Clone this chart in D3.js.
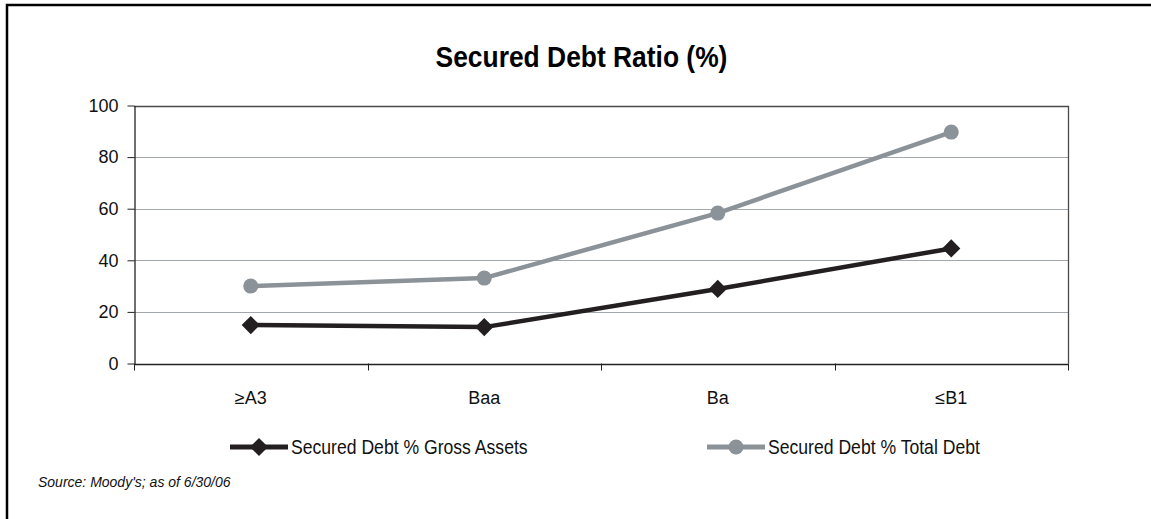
<!DOCTYPE html>
<html><head><meta charset="utf-8">
<script src="https://cdn.jsdelivr.net/npm/d3@7/dist/d3.min.js"></script>
<style>
html,body{margin:0;padding:0;background:#fff;}
svg{display:block;}
text{font-family:"Liberation Sans",Arial,sans-serif;}
</style></head><body>
<svg id="chart" width="1151" height="519"></svg>
<script>
const categories = ["\u2265A3", "Baa", "Ba", "\u2264B1"];
const grossAssets = [14.9, 14.1, 28.9, 44.6];
const totalDebt = [30.0, 33.1, 58.3, 89.7];
const yTicks = [0, 20, 40, 60, 80, 100];
const seriesNames = ["Secured Debt % Gross Assets", "Secured Debt % Total Debt"];
const title = "Secured Debt Ratio (%)";
const source = "Source: Moody's; as of 6/30/06";

const W = 1151, H = 519;
const svg = d3.select("#chart");
const m = {left: 134, right: 1068, top: 105.5, bottom: 363.5};

// outer frame
svg.append("path").attr("d", `M7,${H+10} L7,5 L${W+10},5`)
  .attr("fill","none").attr("stroke","#000").attr("stroke-width",2.5);

// condensed text helper
function ctext(x0, y0, sx, str, size, opts={}) {
  const g = svg.append("g").attr("transform", `translate(${x0},${y0}) scale(${sx},1)`);
  const t = g.append("text").attr("x",0).attr("y",0).attr("font-size",size)
    .attr("fill", opts.fill || "#111").text(str);
  if (opts.anchor) t.attr("text-anchor", opts.anchor);
  if (opts.bold) t.attr("font-weight","bold");
  return t;
}

ctext(581.5, 67, 0.88, title, 30, {anchor:"middle", bold:true, fill:"#000"});

const x = d3.scaleBand().domain(categories).range([m.left, m.right]);
const y = d3.scaleLinear().domain([0,100]).range([m.bottom, m.top]);

// gridlines
svg.append("g").selectAll("line").data(yTicks.filter(d=>d>0 && d<100)).join("line")
  .attr("x1", m.left).attr("x2", m.right)
  .attr("y1", d=>Math.round(y(d))+0.5).attr("y2", d=>Math.round(y(d))+0.5)
  .attr("stroke", "#a3a8ad").attr("stroke-width",1);

// plot border top/right
svg.append("path").attr("d", `M${m.left},${Math.round(y(100))+0.5} H${m.right+0.5} V${m.bottom}`)
  .attr("fill","none").attr("stroke","#4a4a4a").attr("stroke-width",1.3);

// y axis
const yAxis = svg.append("g").attr("transform",`translate(${m.left+0.5},0)`)
  .call(d3.axisLeft(y).tickValues(yTicks).tickSize(7).tickPadding(9).tickSizeOuter(0));
yAxis.select(".domain").attr("stroke","#222").attr("stroke-width",1.3);
yAxis.selectAll(".tick line").attr("stroke","#222");
yAxis.selectAll("text").attr("font-size",18).attr("fill","#111")
  .attr("font-family","'Liberation Sans',Arial,sans-serif");

// x axis
const xAxis = svg.append("g").attr("transform",`translate(0,${m.bottom+0.5})`)
  .call(d3.axisBottom(x).tickSize(0).tickPadding(27));
xAxis.select(".domain").attr("stroke","#222").attr("stroke-width",1.5);
xAxis.selectAll("text").attr("font-size",18).attr("fill","#111")
  .attr("font-family","'Liberation Sans',Arial,sans-serif");
// category boundary ticks
const bounds = categories.map(c=>x(c)).concat([m.right]);
svg.append("g").selectAll("line").data(bounds).join("line")
  .attr("x1",d=>Math.round(d)+0.5).attr("x2",d=>Math.round(d)+0.5)
  .attr("y1", m.bottom).attr("y2", m.bottom+7).attr("stroke","#222").attr("stroke-width",1);

const cx = c => x(c) + x.bandwidth()/2;
const line = d3.line().x((d,i)=>cx(categories[i])).y(d=>y(d));

const grayC = "#8b9298", blackC = "#231f20";
svg.append("path").datum(totalDebt).attr("d", line).attr("fill","none")
  .attr("stroke", grayC).attr("stroke-width",4.5);
svg.append("g").selectAll("circle").data(totalDebt).join("circle")
  .attr("cx",(d,i)=>cx(categories[i])).attr("cy",d=>y(d)).attr("r",7.5).attr("fill",grayC);

svg.append("path").datum(grossAssets).attr("d", line).attr("fill","none")
  .attr("stroke", blackC).attr("stroke-width",4.5);
const diamond = d3.symbol().type(d3.symbolSquare).size(165);
svg.append("g").selectAll("path").data(grossAssets).join("path")
  .attr("d", diamond())
  .attr("transform",(d,i)=>`translate(${cx(categories[i])},${y(d)}) rotate(45)`)
  .attr("fill",blackC);

// legend
const leg = [
  {name: seriesNames[0], x0: 230, x1: 288, color: blackC, mk: "d"},
  {name: seriesNames[1], x0: 707, x1: 765, color: grayC, mk: "c"}
];
const ly = 447;
leg.forEach(l=>{
  svg.append("line").attr("x1",l.x0).attr("x2",l.x1).attr("y1",ly).attr("y2",ly)
    .attr("stroke",l.color).attr("stroke-width",5);
  const mx = (l.x0+l.x1)/2;
  if (l.mk==="d") svg.append("path").attr("d", diamond())
      .attr("transform",`translate(${mx},${ly}) rotate(45)`).attr("fill",l.color);
  else svg.append("circle").attr("cx",mx).attr("cy",ly).attr("r",7.5).attr("fill",l.color);
  ctext(l.x1+3, 454, 0.88, l.name, 20, {fill:"#111"});
});

svg.append("text").attr("x",38).attr("y",487)
  .attr("font-style","italic")
  .attr("font-size",14).attr("fill","#111").text(source);
</script>
</body></html>
